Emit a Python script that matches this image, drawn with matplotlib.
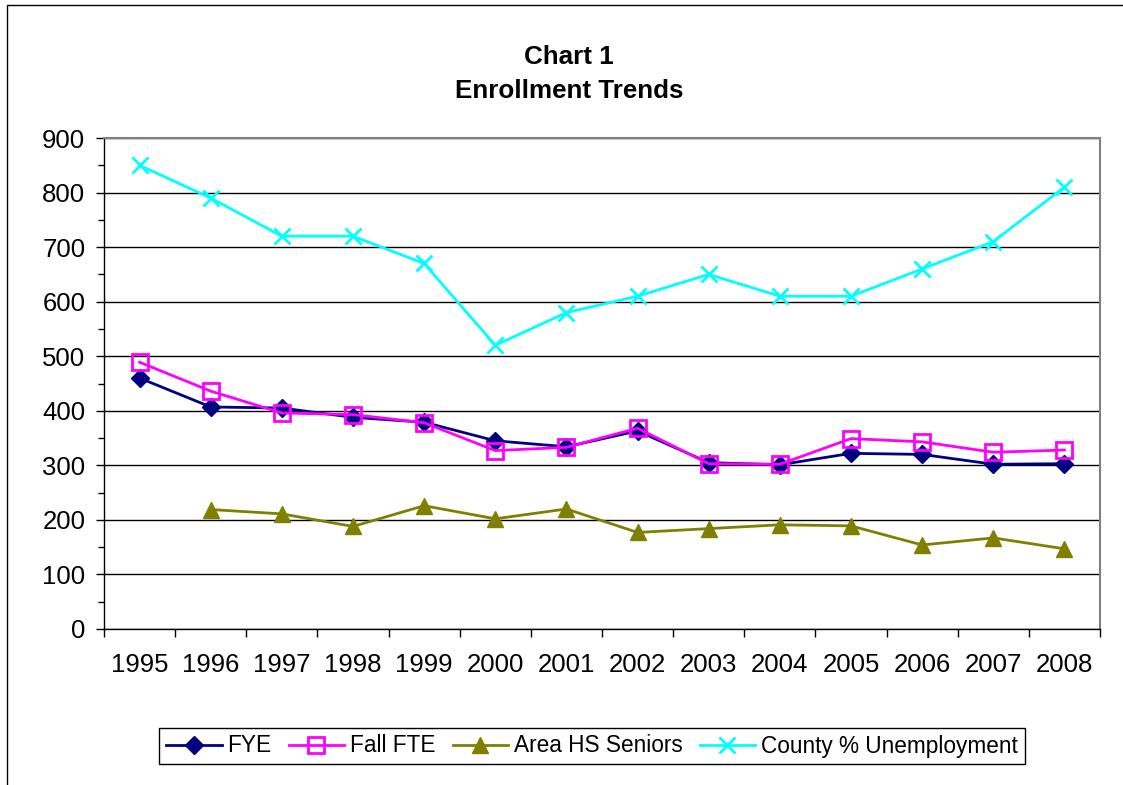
import matplotlib
matplotlib.use("Agg")
import matplotlib.pyplot as plt
from matplotlib.patches import Rectangle
import numpy as np

plt.rcParams['font.family'] = ['Liberation Sans', 'DejaVu Sans']

years = ['1995', '1996', '1997', '1998', '1999', '2000', '2001',
         '2002', '2003', '2004', '2005', '2006', '2007', '2008']
fye = [460, 407, 405, 388, 379, 345, 334, 363, 305, 301, 322, 320, 302, 303]
fall_fte = [489, 436, 396, 393, 378, 327, 333, 368, 303, 302, 349, 343, 324, 328]
hs_seniors = [None, 219, 211, 188, 226, 202, 220, 177, 184, 191, 189, 154, 167, 147]
unemployment = [850, 790, 720, 720, 670, 520, 580, 610, 650, 610, 610, 660, 710, 810]

fig = plt.figure(figsize=(11.23, 7.85), dpi=100)
ax = fig.add_axes([104 / 1123, 1 - 629 / 785, (1100 - 104) / 1123, (629 - 138) / 785])

x = np.arange(len(years))
hs = np.array([np.nan if v is None else v for v in hs_seniors], dtype=float)

ax.plot(x, fye, color='#000080', lw=2, marker='D', ms=9, label='FYE', zorder=4)
ax.plot(x, fall_fte, color='#FF00FF', lw=2, marker='s', ms=11, mfc='none',
        mec='#FF00FF', mew=2, label='Fall FTE', zorder=5)
ax.plot(x, hs, color='#808000', lw=2, marker='^', ms=12, label='Area HS Seniors', zorder=3)
ax.plot(x, unemployment, color='#00FFFF', lw=2, marker='x', ms=12, mew=2,
        label='County % Unemployment', zorder=3)

ax.set_xlim(-0.5, len(years) - 0.5)
ax.set_ylim(0, 900)
ax.set_yticks(range(0, 901, 100))
ax.set_yticks(range(50, 900, 100), minor=True)
ax.set_xticks(x)
ax.set_xticklabels(years)
ax.set_xticks(np.arange(-0.5, len(years)), minor=True)

ax.tick_params(axis='y', which='major', direction='out', length=5.5, width=1,
               labelsize=18.5, pad=8, colors='black')
ax.tick_params(axis='y', which='minor', direction='out', length=4.5, width=1)
ax.tick_params(axis='x', which='major', length=0, labelsize=18.5, pad=17.5)
ax.tick_params(axis='x', which='minor', direction='out', length=5.8, width=1)

ax.yaxis.grid(True, color='black', lw=1)
ax.set_axisbelow(True)
for side in ['top', 'right']:
    ax.spines[side].set_color('#808080')
    ax.spines[side].set_linewidth(1.5)
for side in ['left', 'bottom']:
    ax.spines[side].set_color('black')
    ax.spines[side].set_linewidth(1)

fig.text(569 / 1123, 1 - 64 / 785, 'Chart 1', ha='center', va='baseline',
         fontsize=18.7, fontweight='bold')
fig.text(569 / 1123, 1 - 98 / 785, 'Enrollment Trends', ha='center', va='baseline',
         fontsize=18.7, fontweight='bold')

leg = fig.legend(loc='center', bbox_to_anchor=(592 / 1123, 1 - 746 / 785), ncol=4,
                 fontsize=16.3, frameon=True, fancybox=False, edgecolor='black',
                 framealpha=1, handlelength=2.45, handletextpad=0.26, columnspacing=0.75,
                 borderpad=0.3, borderaxespad=0)
leg.get_frame().set_linewidth(1)

fig.patches.append(Rectangle((7 / 1123, -0.1), 1.2, 1 - 5 / 785 + 0.1,
                             transform=fig.transFigure, fill=False,
                             edgecolor='black', lw=1))

plt.savefig('out.png', dpi=100)
